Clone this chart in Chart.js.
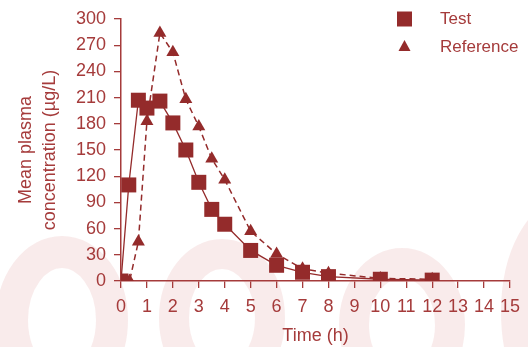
<!DOCTYPE html>
<html>
<head>
<meta charset="utf-8">
<script src="https://cdn.jsdelivr.net/npm/chart.js@4/dist/chart.umd.min.js"></script>
<style>
  html, body { margin: 0; padding: 0; background: #fff; }
  #wrap { width: 528px; height: 347px; }
</style>
</head>
<body>
<div id="wrap"><canvas id="pkChart"></canvas></div>
<script>
"use strict";

// time points (h) and mean plasma concentrations (µg/L)
const testTimes = [0, 0.3, 0.67, 1, 1.5, 2, 2.5, 3, 3.5, 4, 5, 6, 7, 8, 10, 12];
const testConc  = [0, 110, 207, 198, 206, 181, 150, 113, 82, 65, 35, 18, 10, 5, 2, 1];

const refTimes = [0, 0.33, 0.67, 1, 1.5, 2, 2.5, 3, 3.5, 4, 5, 6, 7, 8, 10, 12];
const refConc  = [0, 0, 45, 183, 284, 262, 208, 177, 140, 116, 57, 31, 14, 9, 3, 2];

const seriesNames = ["Test", "Reference"];
const xTitle = "Time (h)";
const yTitle = ["Mean plasma", "concentration (µg/L)"];

const markColor = "#942b2b";
const textColor = "#a53b3b";
const fontFamily = "'Liberation Sans', Arial, sans-serif";

const toPoints = (xs, ys) => xs.map((x, i) => ({ x: x, y: ys[i] }));

// faint pink watermark behind the plot
const watermark = {
    id: "watermark",
    beforeDraw(chart) {
        const c = chart.ctx;
        c.save();
        c.strokeStyle = "rgba(226, 165, 165, 0.22)";
        [[62, 320, 50, 68, 32], [222, 318, 48, 64, 30], [402, 325, 48, 62, 30], [572, 312, 55, 100, 32]].forEach(r => {
            c.lineWidth = r[4];
            c.beginPath();
            c.ellipse(r[0], r[1], r[2], r[3], 0, 0, Math.PI * 2);
            c.stroke();
        });
        c.restore();
    }
};

// legend drawn in the top right of the plot
const cornerLegend = {
    id: "cornerLegend",
    afterDraw(chart) {
        const c = chart.ctx;
        c.save();
        chart.data.datasets.forEach((ds, i) => {
            const y = 19 + i * 28;
            c.fillStyle = markColor;
            c.beginPath();
            if (ds.pointStyle === "rect") {
                c.rect(397, y - 7.5, 15, 15);
            } else {
                c.moveTo(404.5, y - 7);
                c.lineTo(410.5, y + 4);
                c.lineTo(398.5, y + 4);
                c.closePath();
            }
            c.fill();
            c.fillStyle = textColor;
            c.font = "17px " + fontFamily;
            c.textBaseline = "middle";
            c.textAlign = "left";
            c.fillText(ds.label, 440, y);
        });
        c.restore();
    }
};

new Chart(document.getElementById("pkChart"), {
    type: "line",
    data: {
        datasets: [{
            label: seriesNames[0],
            data: toPoints(testTimes, testConc),
            borderColor: markColor,
            backgroundColor: markColor,
            borderWidth: 1.3,
            pointStyle: "rect",
            pointRadius: 10.6,
            pointBorderWidth: 0,
            fill: false,
            tension: 0
        }, {
            label: seriesNames[1],
            data: toPoints(refTimes, refConc),
            borderColor: markColor,
            backgroundColor: markColor,
            borderWidth: 1.5,
            borderDash: [6, 4],
            pointStyle: "triangle",
            pointRadius: 7.5,
            pointBorderWidth: 0,
            fill: false,
            tension: 0
        }]
    },
    options: {
        responsive: true,
        maintainAspectRatio: false,
        animation: false,
        layout: {
            padding: { left: 0, top: 19, right: 11, bottom: 0 }
        },
        plugins: {
            legend: { display: false },
            tooltip: { enabled: false }
        },
        scales: {
            x: {
                type: "linear",
                min: 0,
                max: 15,
                afterFit: s => { s.height = 66; },
                ticks: {
                    stepSize: 1,
                    color: textColor,
                    padding: 8,
                    maxRotation: 0,
                    font: { family: fontFamily, size: 18 }
                },
                grid: {
                    drawOnChartArea: false,
                    drawTicks: true,
                    tickLength: 7,
                    color: textColor,
                    lineWidth: 1.3
                },
                border: { display: true, color: textColor, width: 1.5 },
                title: {
                    display: true,
                    text: xTitle,
                    color: textColor,
                    font: { family: fontFamily, size: 18, lineHeight: 1.2 },
                    padding: { top: 0, bottom: 0 }
                }
            },
            y: {
                min: 0,
                max: 300,
                afterFit: s => { s.width = 121; },
                ticks: {
                    stepSize: 30,
                    color: textColor,
                    padding: 8,
                    font: { family: fontFamily, size: 18 }
                },
                grid: {
                    drawOnChartArea: false,
                    drawTicks: true,
                    tickLength: 7,
                    color: textColor,
                    lineWidth: 1.3
                },
                border: { display: true, color: textColor, width: 1.5 },
                title: {
                    display: true,
                    text: yTitle,
                    color: textColor,
                    font: { family: fontFamily, size: 18, lineHeight: 1.28 },
                    padding: { top: 15, bottom: 0 }
                }
            }
        }
    },
    plugins: [watermark, cornerLegend]
});
</script>
</body>
</html>
